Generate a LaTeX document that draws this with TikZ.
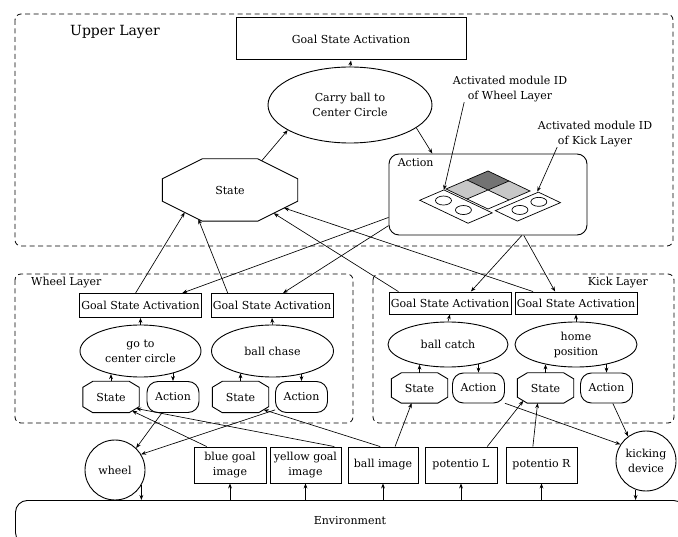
\documentclass[tikz,border=0pt]{standalone}
\usepackage{fontspec}
\setmainfont{DejaVu Serif}
\usetikzlibrary{arrows.meta,shapes.geometric,calc}

\begin{document}
\begin{tikzpicture}[x=1pt,y=-1pt,
  every node/.style={font=\fontsize{11}{15}\selectfont, inner sep=0pt},
  arr/.style={-{Stealth[length=5pt,width=3.8pt]}, line width=0.65pt},
  layer/.style={draw, dash pattern=on 5pt off 3.5pt, rounded corners=6pt, line width=0.8pt},
  gsa/.style={draw, rectangle, line width=0.9pt, minimum height=24pt, minimum width=122pt},
  goal/.style={draw, ellipse, line width=0.9pt, align=center},
  stbox/.style={rectangle, minimum width=56pt, minimum height=31pt},
  actbox/.style={draw, rounded corners=11pt, minimum width=52pt, minimum height=31pt, line width=0.9pt},
  sensor/.style={draw, rectangle, minimum width=71pt, minimum height=36pt, align=center, line width=0.9pt},
  device/.style={draw, circle, minimum size=60pt, align=center, line width=0.9pt},
  cell/.style={draw, line width=0.7pt},
]
\useasboundingbox (0,0) rectangle (678,537);

% ---------------- upper layer ----------------
\draw[layer] (15,14) rectangle (673,246);
\node[font=\fontsize{14}{16}\selectfont, anchor=west] (ulab) at (70,32) {Upper Layer};
\node[draw, line width=1pt, minimum width=230pt, minimum height=42pt] (ug) at (351,39) {Goal State Activation};
\node[goal, minimum width=164pt, minimum height=76pt] (ue) at (350,105) {Carry ball to\\Center Circle};
\node[rectangle, minimum width=135pt, minimum height=62pt] (us) at (230,190) {State};
\node[draw, rounded corners=10pt, minimum width=198pt, minimum height=81pt, line width=0.9pt] (ua) at (488,194.5) {};
\node[anchor=west] (ualab) at ($(ua.north west)+(9,9)$) {Action};

% module grid inside the action box
\begin{scope}[shift={(488,190)}, x={(21pt,-10pt)}, y={(21pt,9pt)}]
  \fill[black!55] (-1,0) -- (0,0) -- (0,1) -- (-1,1) -- cycle;
  \fill[black!22] (-1,-1) -- (0,-1) -- (0,0) -- (-1,0) -- cycle;
  \fill[black!22] (0,0) -- (1,0) -- (1,1) -- (0,1) -- cycle;
  \draw[cell] (-1,-1) -- (1,-1) -- (1,1) -- (-1,1) -- cycle;
  \draw[cell] (0,-1) -- (0,1) (-1,0) -- (1,0);
  \draw[cell] (-1,-1.1) -- (1.3,-1.1) -- (1.3,-2.25) -- (-1,-2.25) -- cycle;
  \draw[cell] (1.25,-0.9) -- (2.3,-0.9) -- (2.3,1.15) -- (1.25,1.15) -- cycle;
  \coordinate (w1) at (-0.45,-1.67);
  \coordinate (w2) at (0.5,-1.67);
  \coordinate (k1) at (1.77,-0.25);
  \coordinate (k2) at (1.77,0.65);
  \coordinate (wpan) at (-1,-1.1);
  \coordinate (kpan) at (1.2,1.15);
\end{scope}
\foreach \c in {w1,w2,k1,k2}
  \draw[line width=0.7pt] (\c) ellipse [x radius=8, y radius=4.5];

\node[align=center] (anw) at (510,89) {Activated module ID\\of Wheel Layer};
\node[align=center] (ank) at (595,134) {Activated module ID\\of Kick Layer};
\draw[arr] ($(anw.south west)!0.1!(anw.south east)$) -- (wpan);
\draw[arr] ($(ank.south west)!0.17!(ank.south east)$) -- (kpan);

% ---------------- wheel layer ----------------
\draw[layer] (15,274) rectangle (353,423);
\node[anchor=west] (wlab) at (31,283) {Wheel Layer};
\node[gsa] (g1) at (140.5,305.5) {Goal State Activation};
\node[gsa] (g2) at (272,305.5) {Goal State Activation};
\node[goal, minimum width=121pt, minimum height=52pt] (e1) at (140.5,351) {go to\\center circle};
\node[goal, minimum width=122pt, minimum height=52pt] (e2) at (272.5,351) {ball chase};
\node[stbox] (s1) at (111,397) {State};
\node[actbox] (a1) at (173,397) {Action};
\node[stbox] (s2) at (240.5,397) {State};
\node[actbox] (a2) at (301.5,397) {Action};

% ---------------- kick layer ----------------
\draw[layer] (373,274) rectangle (674,423);
\node[anchor=east] (klab) at (648,283) {Kick Layer};
\node[gsa, minimum height=22pt] (g3) at (450,303) {Goal State Activation};
\node[gsa, minimum height=22pt] (g4) at (576,303) {Goal State Activation};
\node[goal, minimum width=120pt, minimum height=45pt] (e3) at (448,344.5) {ball catch};
\node[goal, minimum width=122pt, minimum height=45pt] (e4) at (576,344.5) {home\\position};
\node[stbox, minimum height=30pt] (s3) at (419.5,388) {State};
\node[actbox, minimum height=30pt] (a3) at (478.5,388) {Action};
\node[stbox, minimum height=30pt] (s4) at (545.5,388) {State};
\node[actbox, minimum height=30pt] (a4) at (606.5,388) {Action};

% octagonal outlines of the state nodes, with named corners
\foreach \n/\cx/\cy in {us/40/20, s1/10/6, s2/10/6, s3/10/6, s4/10/6} {
  \path ($(\n.north west)+(\cx,0)$) coordinate (\n-t1)
        ($(\n.north east)+(-\cx,0)$) coordinate (\n-t2)
        ($(\n.north east)+(0,\cy)$) coordinate (\n-r1)
        ($(\n.south east)+(0,-\cy)$) coordinate (\n-r2)
        ($(\n.south east)+(-\cx,0)$) coordinate (\n-b2)
        ($(\n.south west)+(\cx,0)$) coordinate (\n-b1)
        ($(\n.south west)+(0,-\cy)$) coordinate (\n-l2)
        ($(\n.north west)+(0,\cy)$) coordinate (\n-l1);
  \draw[line width=0.9pt] (\n-t1) -- (\n-t2) -- (\n-r1) -- (\n-r2) -- (\n-b2) -- (\n-b1)
        -- (\n-l2) -- (\n-l1) -- cycle;
}

% upper-layer links
\draw[arr] (ue.north) -- (ug.south);
\draw[arr] ($(us-t2)!0.1!(us-r1)$) -- (ue.202);
\draw[arr] (ue.341) -- ($(ua.north west)!0.22!(ua.north east)$);

% links inside the lower layers
\foreach \e/\g in {e1/g1,e2/g2,e3/g3,e4/g4}
  \draw[arr] (\e.north) -- (\g.south);
\draw[arr] (s1.north) -- (s1.north |- e1.218);
\draw[arr] (a1.north |- e1.326) -- (a1.north);
\draw[arr] (s2.north) -- (s2.north |- e2.214);
\draw[arr] (a2.north |- e2.322) -- (a2.north);
\draw[arr] (s3.north) -- (s3.north |- e3.215);
\draw[arr] (a3.north |- e3.327) -- (a3.north);
\draw[arr] (s4.north) -- (s4.north |- e4.213);
\draw[arr] (a4.north |- e4.327) -- (a4.north);

% links between the layers
\draw[arr] ($(g1.north west)!0.46!(g1.north east)$) -- ($(us-l2)!0.56!(us-b1)$);
\draw[arr] ($(g2.north west)!0.14!(g2.north east)$) -- ($(us-l2)!0.9!(us-b1)$);
\draw[arr] ($(g3.north west)!0.08!(g3.north east)$) -- ($(us-b2)!0.4!(us-r2)$);
\draw[arr] ($(g4.north west)!0.15!(g4.north east)$) -- ($(us-b2)!0.66!(us-r2)$);
\draw[arr] ($(ua.north west)!0.78!(ua.south west)$) -- ($(g1.north west)!0.84!(g1.north east)$);
\draw[arr] ($(ua.north west)!0.88!(ua.south west)$) -- ($(g2.north west)!0.59!(g2.north east)$);
\draw[arr] ($(ua.south west)!0.67!(ua.south east)$) -- ($(g3.north west)!0.67!(g3.north east)$);
\draw[arr] ($(ua.south west)!0.68!(ua.south east)$) -- ($(g4.north west)!0.33!(g4.north east)$);

% ---------------- sensors, actuators, environment ----------------
\node[draw, rounded corners=12pt, minimum width=670pt, minimum height=44pt, anchor=north west,
  line width=0.9pt] (env) at (15,500) {};
\node (envlab) at (350,521) {Environment};
\node[device] (wheel) at (115,470) {wheel};
\node[sensor, minimum width=72pt] (bg) at (230,465) {blue goal\\image};
\node[sensor] (yg) at (305.5,465) {yellow goal\\image};
\node[sensor, minimum width=70pt] (bi) at (383,465) {ball image};
\node[sensor, minimum width=72pt] (pl) at (461,465) {potentio L};
\node[sensor] (pr) at (541.5,465) {potentio R};
\node[device] (kd) at (646,461) {kicking\\device};

\foreach \s in {bg,yg,bi,pl,pr}
  \draw[arr] (\s.south |- env.north) -- (\s.south);
\draw[arr] (wheel.-30) -- (wheel.-30 |- env.north);
\draw[arr] (kd.-110) -- (kd.-110 |- env.north);

\draw[arr] ($(bg.north west)!0.18!(bg.north east)$) -- ($(s1-b2)!0.3!(s1-r2)$);
\draw[arr] ($(yg.north west)!0.9!(yg.north east)$) -- ($(s1-b2)!0.7!(s1-r2)$);
\draw[arr] ($(bi.north west)!0.46!(bi.north east)$) -- ($(s2-b2)!0.5!(s2-r2)$);
\draw[arr] ($(a1.south west)!0.29!(a1.south east)$) -- (wheel.46);
\draw[arr] (a2.206) -- (wheel.31);
\draw[arr] ($(bi.north west)!0.67!(bi.north east)$) -- ($(s3.south west)!0.36!(s3.south east)$);
\draw[arr] ($(pl.north west)!0.86!(pl.north east)$) -- ($(s4-l2)!0.6!(s4-b1)$);
\draw[arr] ($(pr.north west)!0.38!(pr.north east)$) -- ($(s4.south west)!0.36!(s4.south east)$);
\draw[arr] (a3.330) -- (kd.147);
\draw[arr] ($(a4.south west)!0.62!(a4.south east)$) -- (kd.126);
\end{tikzpicture}
\end{document}
